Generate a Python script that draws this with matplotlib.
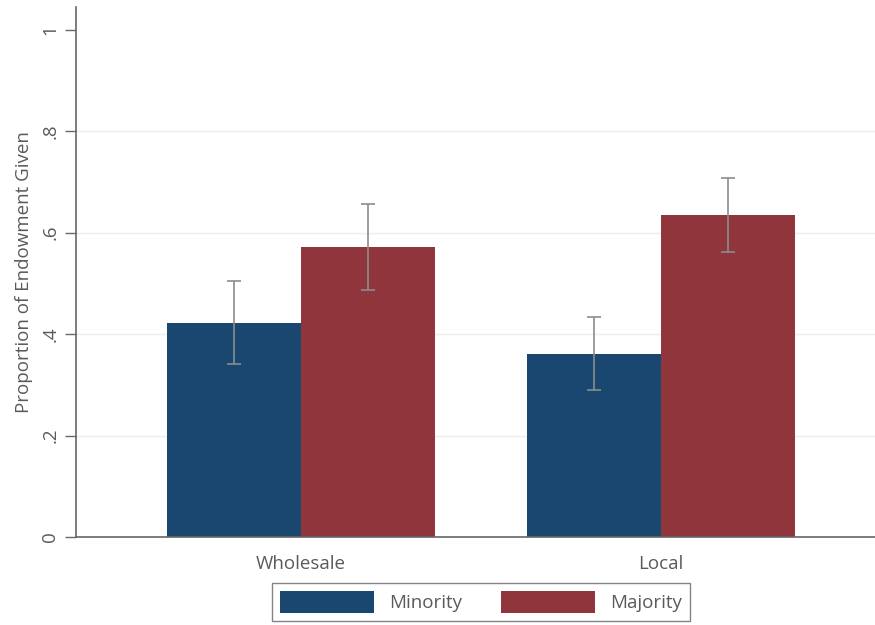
import matplotlib

matplotlib.use("Agg")
import matplotlib.pyplot as plt
import numpy as np

plt.rcParams["font.family"] = ["Open Sans", "DejaVu Sans"]

# proportion of endowment given, by market and group
markets = ["Wholesale", "Local"]
groups = ["Minority", "Majority"]
means = {
    "Minority": [0.422, 0.361],
    "Majority": [0.572, 0.635],
}
ci_low = {
    "Minority": [0.341, 0.290],
    "Majority": [0.487, 0.562],
}
ci_high = {
    "Minority": [0.505, 0.434],
    "Majority": [0.657, 0.708],
}
colors = {"Minority": "#1a476f", "Majority": "#90353b"}

yticks = [0, 0.2, 0.4, 0.6, 0.8, 1.0]
ytick_labels = ["0", ".2", ".4", ".6", ".8", "1"]

text_col = "#5a5a5a"
axis_col = "#666666"
fs = 13.5

fig = plt.figure(figsize=(8.75, 6.25), dpi=100)
ax = fig.add_axes([76 / 875, 88 / 625, 799 / 875, 530 / 625])

x = np.arange(len(markets))
width = 0.372
offsets = {"Minority": -width / 2, "Majority": width / 2}

for g in groups:
    pos = x + offsets[g]
    m = np.array(means[g])
    lo = m - np.array(ci_low[g])
    hi = np.array(ci_high[g]) - m
    ax.bar(pos, m, width=width, color=colors[g], label=g, zorder=2)
    ax.errorbar(pos, m, yerr=[lo, hi], fmt="none", ecolor="#8c8c8c",
                elinewidth=1.2, capsize=5, capthick=1.2, zorder=3)

ax.set_xlim(-0.625, 1.594)
ax.set_ylim(0, 1.045)

for y in yticks[1:-1]:
    ax.axhline(y, color="#eeeeee", linewidth=1.0, zorder=0)

ax.set_yticks(yticks)
ax.set_yticklabels(ytick_labels, rotation=90, va="center", color=text_col, fontsize=fs)
ax.set_xticks(x)
ax.set_xticklabels(markets, color=text_col, fontsize=fs)
ax.tick_params(axis="y", length=8, width=1, color=axis_col, pad=4)
ax.tick_params(axis="x", length=0, pad=13)

ax.set_ylabel("Proportion of Endowment Given", color=text_col, fontsize=fs, labelpad=6)

for side in ["top", "right"]:
    ax.spines[side].set_visible(False)
for side in ["left", "bottom"]:
    ax.spines[side].set_color(axis_col)
    ax.spines[side].set_linewidth(1.2)

leg = fig.legend(loc="center", bbox_to_anchor=(481 / 875, 1 - 602 / 625), ncol=2,
                 fontsize=fs, frameon=True, fancybox=False, handlelength=5.0,
                 handleheight=1.35, columnspacing=2.1, handletextpad=0.8,
                 borderpad=0.45, borderaxespad=0.0, edgecolor=axis_col)
leg.get_frame().set_linewidth(1.0)
for t in leg.get_texts():
    t.set_color(text_col)

fig.savefig("out.png", dpi=100, facecolor="white")
